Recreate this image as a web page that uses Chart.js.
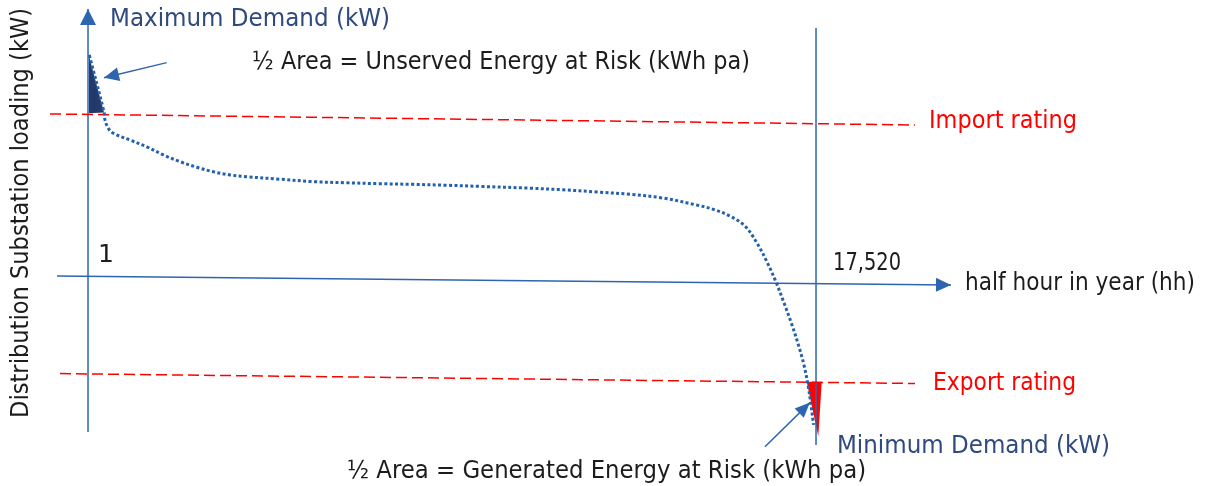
<!DOCTYPE html>
<html>
<head>
<meta charset="utf-8">
<script src="https://cdn.jsdelivr.net/npm/chart.js@4.4.1/dist/chart.umd.min.js"></script>
<style>
  html, body { margin: 0; padding: 0; background: #fff; }
  #wrap { width: 1210px; height: 486px; }
</style>
</head>
<body>
<div id="wrap"><canvas id="duration"></canvas></div>
<script>
// load duration curve (schematic) - half hour in year vs kW
const curveHh = [32, 386, 410, 489, 610, 1012, 1414, 1813, 2215, 2617, 3016, 3418, 3820, 4621, 5423, 6226,
  7028, 7829, 8633, 9434, 10637, 11439, 12242, 13044, 13845, 14649, 15048, 15450, 15811, 16100,
  16341, 16557, 16750, 16942, 17111, 17231, 17327, 17400, 17460];
const curveKw = [100, 74.7, 71.1, 67.4, 65.2, 62.2, 59.2, 55.6, 52.6, 50.1, 48.1, 46.7, 45.9, 44.8, 43.7, 43.2,
  42.8, 42.5, 42.1, 41.6, 40.8, 40.1, 39.1, 38.1, 36.4, 33.3, 31.4, 28.4, 24.0, 16.4,
  8.0, -0.9, -10.2, -20.0, -29.8, -37.8, -46.7, -55.6, -64.4];

// ratings (dashed red)
const importHh = [-913, 19902];
const importKw = [73.8, 68.9];
const exportHh = [-673, 19902];
const exportKw = [-41.6, -46.0];

// energy at risk triangles
const unservedHh = [25, 25, 386];
const unservedKw = [99.6, 74.1, 74.4];
const generatedHh = [17296, 17657, 17575];
const generatedKw = [-45.2, -45.2, -69.6];

// axes and pointers
const yAxisHh = [1, 1];
const yAxisKw = [-67.6, 120.4];
const xAxisHh = [-745, 20768];
const xAxisKw = [1.8, -2.2];
const endHh = [17520, 17520];
const endKw = [112, -73.3];
const maxPointerHh = [1895, 386];
const maxPointerKw = [96.6, 89.9];
const minPointerHh = [16292, 17374];
const minPointerKw = [-74.1, -54.5];

// text
const labelText = [
  'Maximum Demand (kW)',
  '\u00BD Area = Unserved Energy at Risk (kWh pa)',
  'Import rating',
  'Export rating',
  'half hour in year (hh)',
  '17,520',
  '1',
  'Minimum Demand (kW)',
  '\u00BD Area = Generated Energy at Risk (kWh pa)',
  'Distribution Substation loading (kW)'
];
const labelHh = [530, 3948, 20239, 20335, 21105, 17929, 242, 18025, 6234, -1443];
const labelKw = [112.9, 93.8, 67.6, -48.9, -4.4, 4.4, 8.0, -76.9, -88.0, -61.3];

// layout for the labels: target width, colour, rotation
const labelWidth = [280, 498, 148, 143, 230, 68, null, 273, 519, 410];
const labelColor = ['#2F4A7C', '#1c1c1c', '#FF0000', '#FF0000', '#1c1c1c', '#1c1c1c', '#1c1c1c', '#2F4A7C', '#1c1c1c', '#1c1c1c'];
const labelRotate = [0, 0, 0, 0, 0, 0, 0, 0, 0, -90];

const pts = (xs, ys) => xs.map((x, i) => ({ x: x, y: ys[i] }));

const AXIS = '#2E65B0';

const overlay = {
  id: 'overlay',
  afterDatasetsDraw(chart) {
    const ctx = chart.ctx;
    chart.data.datasets.forEach((ds, i) => {
      if (!ds.arrowHead) return;
      const el = chart.getDatasetMeta(i).data;
      const a = el[el.length - 2], b = el[el.length - 1];
      const ang = Math.atan2(b.y - a.y, b.x - a.x);
      const len = ds.arrowHead[0], wid = ds.arrowHead[1];
      ctx.save();
      ctx.translate(b.x, b.y);
      ctx.rotate(ang);
      ctx.beginPath();
      ctx.moveTo(0, 0);
      ctx.lineTo(-len, -wid / 2);
      ctx.lineTo(-len, wid / 2);
      ctx.closePath();
      ctx.fillStyle = ds.borderColor;
      ctx.fill();
      ctx.restore();
    });

    const xs = chart.scales.x, ys = chart.scales.y;
    labelText.forEach((t, i) => {
      ctx.save();
      ctx.font = '25px "DejaVu Sans"';
      ctx.fillStyle = labelColor[i];
      ctx.textBaseline = 'alphabetic';
      ctx.textAlign = 'left';
      ctx.translate(xs.getPixelForValue(labelHh[i]), ys.getPixelForValue(labelKw[i]));
      if (labelRotate[i]) ctx.rotate(labelRotate[i] * Math.PI / 180);
      if (labelWidth[i]) {
        const w = ctx.measureText(t).width;
        ctx.scale(labelWidth[i] / w, 1);
      }
      ctx.fillText(t, 0, 0);
      ctx.restore();
    });
  }
};

const line = (data, color, width, extra) => Object.assign({
  data: data,
  showLine: true,
  borderColor: color,
  backgroundColor: color,
  borderWidth: width,
  pointRadius: 0,
  fill: false
}, extra || {});

new Chart(document.getElementById('duration'), {
  type: 'scatter',
  data: {
    datasets: [
      line(pts(curveHh, curveKw), '#2361AE', 3, { borderDash: [3, 2.4], borderCapStyle: 'butt', tension: 0.35 }),
      line(pts(importHh, importKw), '#FF0000', 1.5, { borderDash: [11, 5] }),
      line(pts(exportHh, exportKw), '#FF0000', 1.5, { borderDash: [11, 5] }),
      line(pts(maxPointerHh, maxPointerKw), AXIS, 1.5, { arrowHead: [15, 14] }),
      line(pts(minPointerHh, minPointerKw), AXIS, 1.5, { arrowHead: [15, 13] }),
      line(pts(yAxisHh, yAxisKw), AXIS, 1.5, { arrowHead: [16, 16] }),
      line(pts(xAxisHh, xAxisKw), AXIS, 1.5, { arrowHead: [15, 14] }),
      line(pts(endHh, endKw), AXIS, 1.5),
      line(pts(unservedHh, unservedKw), '#243A6A', 0, { fill: 'shape' }),
      line(pts(generatedHh, generatedKw), '#FF0000', 0, { fill: 'shape' })
    ]
  },
  options: {
    responsive: true,
    maintainAspectRatio: false,
    animation: false,
    layout: { padding: 0 },
    plugins: { legend: { display: false }, tooltip: { enabled: false } },
    scales: {
      x: { type: 'linear', min: -2117, max: 27001, display: false },
      y: { type: 'linear', min: -91.56, max: 124.44, display: false }
    }
  },
  plugins: [overlay]
});
</script>
</body>
</html>
